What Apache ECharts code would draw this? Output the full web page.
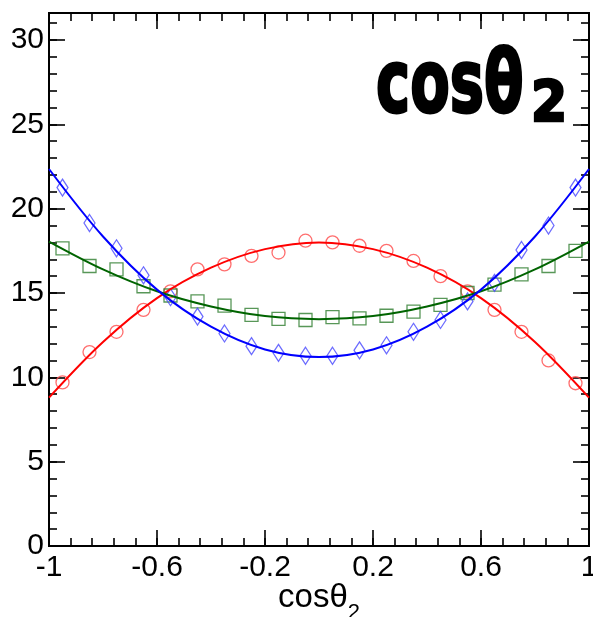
<!DOCTYPE html>
<html>
<head>
<meta charset="utf-8">
<script src="https://cdn.jsdelivr.net/npm/echarts@6/dist/echarts.min.js"></script>
<style>
  html, body { margin: 0; padding: 0; background: #fff; }
  #main { width: 593px; height: 617px; }
</style>
</head>
<body>
<div id="main"></div>
<script>
// bin centres and measured points
var binX = [-0.95, -0.85, -0.75, -0.65, -0.55, -0.45, -0.35, -0.25, -0.15, -0.05,
            0.05, 0.15, 0.25, 0.35, 0.45, 0.55, 0.65, 0.75, 0.85, 0.95];
var redPts = [9.7, 11.5, 12.7, 14.0, 15.1, 16.4, 16.7, 17.2, 17.4, 18.1,
              18.0, 17.8, 17.5, 16.9, 16.0, 15.1, 14.0, 12.7, 11.0, 9.65];
var greenPts = [17.65, 16.6, 16.4, 15.4, 14.85, 14.5, 14.25, 13.7, 13.47, 13.4,
                13.57, 13.5, 13.65, 13.9, 14.3, 15.0, 15.5, 16.1, 16.6, 17.5];
var bluePts = [21.25, 19.15, 17.65, 16.05, 14.75, 13.6, 12.6, 11.85, 11.45, 11.28,
               11.28, 11.6, 11.9, 12.7, 13.4, 14.5, 15.6, 17.55, 19.0, 21.25];

var curveX = [-1, -0.8, -0.6, -0.4, -0.2, 0, 0.2, 0.4, 0.6, 0.8, 1];
var redCurve = [8.8, 12.1, 14.7, 16.5, 17.6, 18.0, 17.6, 16.5, 14.7, 12.1, 8.8];
var greenCurve = [18.05, 16.4, 15.1, 14.2, 13.63, 13.45, 13.63, 14.2, 15.1, 16.4, 18.05];
var blueCurve = [22.35, 18.35, 15.2, 13.0, 11.65, 11.2, 11.65, 13.0, 15.2, 18.35, 22.35];

// axis ticks
var xTicks = [-1, -0.6, -0.2, 0.2, 0.6, 1];
var yTicks = [0, 5, 10, 15, 20, 25, 30];

var xMinor = [];
for (var i = 0; i <= 25; i++) xMinor.push(Math.round((-1 + i * 0.08) * 100) / 100);
var yMinor = [];
for (var j = 0; j <= 31; j++) yMinor.push(j);

function pair(xs, ys) {
  return xs.map(function (x, k) { return [x, ys[k]]; });
}

var font = '"Liberation Sans", Arial, sans-serif';

function xAx(pos, ticks, len, labels) {
  return {
    type: 'value', position: pos, min: -1, max: 1,
    axisLine: { show: true, onZero: false, lineStyle: { color: '#000', width: 2 } },
    axisTick: { show: true, inside: true, length: len, customValues: ticks, lineStyle: { color: '#000', width: 1.6 } },
    axisLabel: labels ? {
      show: true, customValues: ticks, margin: 7,
      fontFamily: font, fontSize: 30, color: '#000'
    } : { show: false },
    splitLine: { show: false }
  };
}
function yAx(pos, ticks, len, labels) {
  return {
    type: 'value', position: pos, min: 0, max: 31.6,
    axisLine: { show: true, onZero: false, lineStyle: { color: '#000', width: 2 } },
    axisTick: { show: true, inside: true, length: len, customValues: ticks, lineStyle: { color: '#000', width: 1.6 } },
    axisLabel: labels ? {
      show: true, customValues: ticks, margin: 5,
      fontFamily: font, fontSize: 30, color: '#000'
    } : { show: false },
    splitLine: { show: false }
  };
}

var xMain = xAx('bottom', xTicks, 16, true);
xMain.name = '{a|cosθ}{b|2}';
xMain.nameLocation = 'middle';
xMain.nameGap = 26;
xMain.nameMoveOverlap = false;
xMain.nameTextStyle = {
  rich: {
    a: { fontFamily: font, fontSize: 33, color: '#000' },
    b: { fontFamily: font, fontSize: 22, color: '#000', padding: [30, 0, 0, 0] }
  }
};

var chart = echarts.init(document.getElementById('main'));
chart.setOption({
  backgroundColor: '#fff',
  animation: false,
  grid: { left: 49, right: 4, top: 13, bottom: 71, containLabel: false, outerBoundsMode: 'none' },
  xAxis: [
    xMain,
    xAx('bottom', xMinor, 8, false),
    xAx('top', xTicks, 16, false),
    xAx('top', xMinor, 8, false)
  ],
  yAxis: [
    yAx('left', yTicks, 16, true),
    yAx('left', yMinor, 8, false),
    yAx('right', yTicks, 16, false),
    yAx('right', yMinor, 8, false)
  ],
  graphic: [
    {
      type: 'text', x: 376, y: 133, scaleX: 0.8, scaleY: 1.2,
      style: {
        text: 'cosθ', font: 'bold 72px "DejaVu Sans"', fill: '#000',
        stroke: '#000', lineWidth: 2.5, textVerticalAlign: 'bottom'
      }
    },
    {
      type: 'text', x: 531, y: 136, scaleX: 1.0, scaleY: 1.1,
      style: {
        text: '2', font: 'bold 52px "DejaVu Sans"', fill: '#000',
        stroke: '#000', lineWidth: 2.5, textVerticalAlign: 'bottom'
      }
    }
  ],
  series: [
    {
      type: 'scatter', data: pair(binX, redPts), symbol: 'circle', symbolSize: 13,
      itemStyle: { color: 'transparent', borderColor: '#ff4a4a', borderWidth: 1.3 }
    },
    {
      type: 'scatter', data: pair(binX, greenPts), symbol: 'rect', symbolSize: 13,
      itemStyle: { color: 'transparent', borderColor: '#2e7d2e', borderWidth: 1.3 }
    },
    {
      type: 'scatter', data: pair(binX, bluePts), symbol: 'diamond', symbolSize: [11, 17],
      itemStyle: { color: 'transparent', borderColor: '#4646ff', borderWidth: 1.3 }
    },
    {
      type: 'line', data: pair(curveX, redCurve), smooth: 0.35, showSymbol: false,
      lineStyle: { color: '#ff0000', width: 2 }
    },
    {
      type: 'line', data: pair(curveX, greenCurve), smooth: 0.35, showSymbol: false,
      lineStyle: { color: '#006400', width: 2 }
    },
    {
      type: 'line', data: pair(curveX, blueCurve), smooth: 0.35, showSymbol: false,
      lineStyle: { color: '#0000ff', width: 2 }
    }
  ]
});
</script>
</body>
</html>
